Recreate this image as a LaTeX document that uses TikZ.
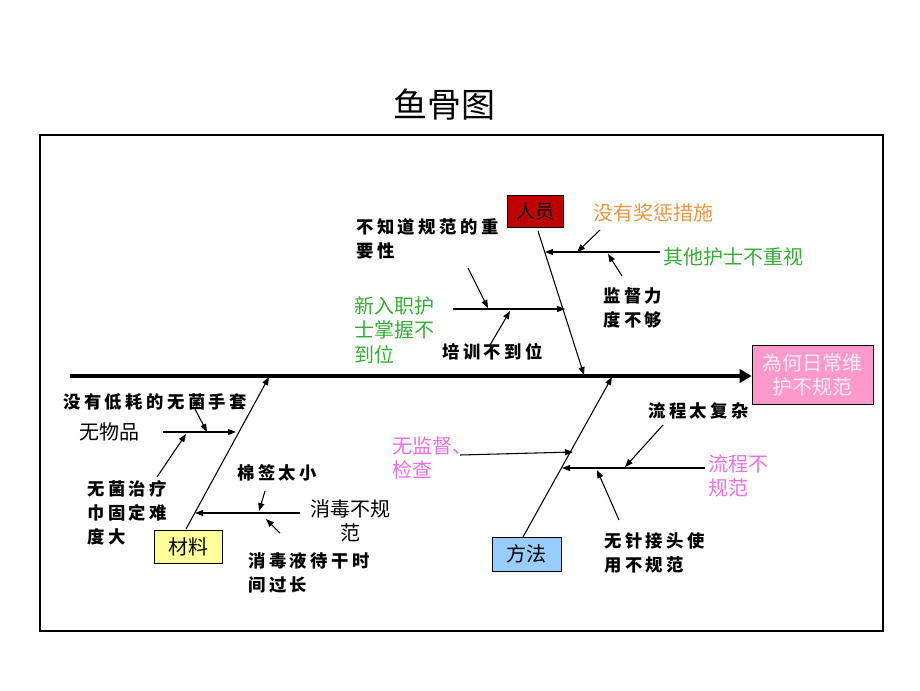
\documentclass[tikz,border=0pt]{standalone}
\usepackage{fontspec}
\usepackage{xcolor}
\usepackage{tikz}
\usetikzlibrary{arrows.meta}
\setmainfont{Noto Sans CJK SC}
\newfontfamily\widecjk[LetterSpace=20]{Noto Sans CJK SC}
\definecolor{renred}{RGB}{192,0,0}
\definecolor{cailiao}{RGB}{255,255,153}
\definecolor{fangfa}{RGB}{153,204,255}
\definecolor{headpink}{RGB}{255,153,204}
\definecolor{headtext}{RGB}{255,236,246}
\definecolor{orangetxt}{RGB}{238,150,70}
\definecolor{greentxt}{RGB}{56,172,56}
\definecolor{pinktxt}{RGB}{234,112,230}
\newcommand{\smalltxt}{%
    \widecjk\bfseries\fontsize{13}{18}\selectfont
}
\newcommand{\bigtxt}{%
    \fontsize{15}{18.5}\selectfont
}

\begin{document}
\begin{tikzpicture}[x=0.75pt,y=0.75pt,yscale=-1,xscale=1,
    bone/.style={line width=0.8pt,-{Triangle[length=6pt,width=4.5pt]}},
    lbl/.style={anchor=north west,inner sep=0.75pt,align=left,font=\smalltxt},
    biglbl/.style={anchor=north west,inner sep=0.75pt,align=left,font=\bigtxt},
    catbox/.style={draw,line width=0.6pt,inner sep=0pt,font=\fontsize{15}{18}\selectfont}]
                \useasboundingbox (0,0) rectangle (920,690);
                % Title
                \draw (444,105) node [font=\fontsize{25.5}{30}\selectfont] (title) {鱼骨图};
                % Frame
                \draw [line width=1.5pt] (40,135) rectangle (883,631);

                % Head and spine
                \draw (812.5,374.5) node [draw, line width=0.6pt, fill=headpink, text=headtext, align=center, font=\fontsize{15}{18}\selectfont, minimum width=90.75pt, minimum height=44.25pt, inner sep=0pt] (head) {為何日常维\\护不规范};
                \coordinate (tail) at (70,376);
                \draw [line width=3pt, -{Triangle[length=9pt,width=10pt]}] (tail) -- (tail -| head.west);

                % Category boxes
                \draw (535,211) node [catbox, fill=renred, minimum width=42pt, minimum height=24pt, font=\fontsize{14.25}{17}\selectfont] (ry) {人员};
                \draw (188,546.5) node [catbox, fill=cailiao, minimum width=51pt, minimum height=24.75pt] (cl) {材料};
                \draw (526.5,554) node [catbox, fill=fangfa, minimum width=51.75pt, minimum height=25.5pt] (ff) {方法};

                % Bone ends
                \coordinate (ryA) at (538,231);
                \coordinate (ryB) at (584,375);
                \coordinate (clA) at (186,529);
                \coordinate (clB) at (269,377);
                \coordinate (ffA) at (523,537);
                \coordinate (ffB) at (612,377);
                \draw [bone] (ryA) -- (ryB);
                \draw [bone] (clA) -- (clB);
                \draw [bone] (ffA) -- (ffB);

                % People
                \coordinate (r1A) at (660,252);
                \coordinate (r1B) at (545,252);
                \coordinate (r2A) at (453,309);
                \coordinate (r2B) at (565,309);
                \draw [bone] (r1A) -- (r1B);
                \draw [bone] (r2A) -- (r2B);
                \coordinate (r1cA) at (600,230);
                \coordinate (r1cB) at (577,252);
                \coordinate (r1dA) at (622,276);
                \coordinate (r1dB) at (608,254);
                \coordinate (r2cA) at (468,268);
                \coordinate (r2cB) at (488,308);
                \coordinate (r2dA) at (490,345);
                \coordinate (r2dB) at (510,311);
                \draw [bone] (r1cA) -- (r1cB);
                \draw [bone] (r1dA) -- (r1dB);
                \draw [bone] (r2cA) -- (r2cB);
                \draw [bone] (r2dA) -- (r2dB);

                % Materials
                \coordinate (c1A) at (163,432);
                \coordinate (c1B) at (236,432);
                \coordinate (c2A) at (300,513);
                \coordinate (c2B) at (195,513);
                \draw [bone] (c1A) -- (c1B);
                \draw [bone] (c2A) -- (c2B);
                \coordinate (c1cA) at (195,409);
                \coordinate (c1cB) at (207,432);
                \coordinate (c1dA) at (157,477);
                \coordinate (c1dB) at (186,434);
                \coordinate (c2cA) at (265,491);
                \coordinate (c2cB) at (259,511);
                \coordinate (c2dA) at (280,533);
                \coordinate (c2dB) at (266,519);
                \draw [bone] (c1cA) -- (c1cB);
                \draw [bone] (c1dA) -- (c1dB);
                \draw [bone] (c2cA) -- (c2cB);
                \draw [bone] (c2dA) -- (c2dB);

                % Methods
                \coordinate (f1A) at (460,455);
                \coordinate (f1B) at (573,452);
                \coordinate (f2A) at (705,468);
                \coordinate (f2B) at (562,468);
                \draw [bone] (f1A) -- (f1B);
                \draw [bone] (f2A) -- (f2B);
                \coordinate (f2cA) at (663,425);
                \coordinate (f2cB) at (625,467);
                \coordinate (f2dA) at (619,520);
                \coordinate (f2dB) at (597,470);
                \draw [bone] (f2cA) -- (f2cB);
                \draw [bone] (f2dA) -- (f2dB);

                % Text Node
                \draw (592,202) node [biglbl, text=orangetxt] (jc) {没有奖惩措施};
                % Text Node
                \draw (662,246) node [biglbl, text=greentxt] (bzs) {其他护士不重视};
                % Text Node
                \draw (602,286) node [lbl] (jd) {监督力\\度不够};
                % Text Node
                \draw (355,217) node [lbl] (gf) {不知道规范的重\\要性};
                % Text Node
                \draw (353,295) node [biglbl, text=greentxt] (xr) {新入职护\\士掌握不\\到位};
                % Text Node
                \draw (441,342) node [lbl] (px) {培训不到位};
                % Text Node
                \draw (62,392) node [lbl] (st) {没有低耗的无菌手套};
                % Text Node
                \draw (78,421) node [biglbl] (wwp) {无物品};
                % Text Node
                \draw (86,479) node [lbl] (zl) {无菌治疗\\巾固定难\\度大};
                % Text Node
                \draw (236,463) node [lbl] (mq) {棉签太小};
                % Text Node
                \draw (309,498) node [biglbl, align=center] (xd) {消毒不规\\范};
                % Text Node
                \draw (247,551) node [lbl] (dg) {消毒液待干时\\间过长};
                % Text Node
                \draw (391,435) node [biglbl, text=pinktxt] (jdjc) {无监督、\\检查};
                % Text Node
                \draw (707,453) node [biglbl, text=pinktxt] (lc) {流程不\\规范};
                % Text Node
                \draw (647,401) node [lbl] (fz) {流程太复杂};
                % Text Node
                \draw (603,531) node [lbl] (zz) {无针接头使\\用不规范};
\end{tikzpicture}
\end{document}
